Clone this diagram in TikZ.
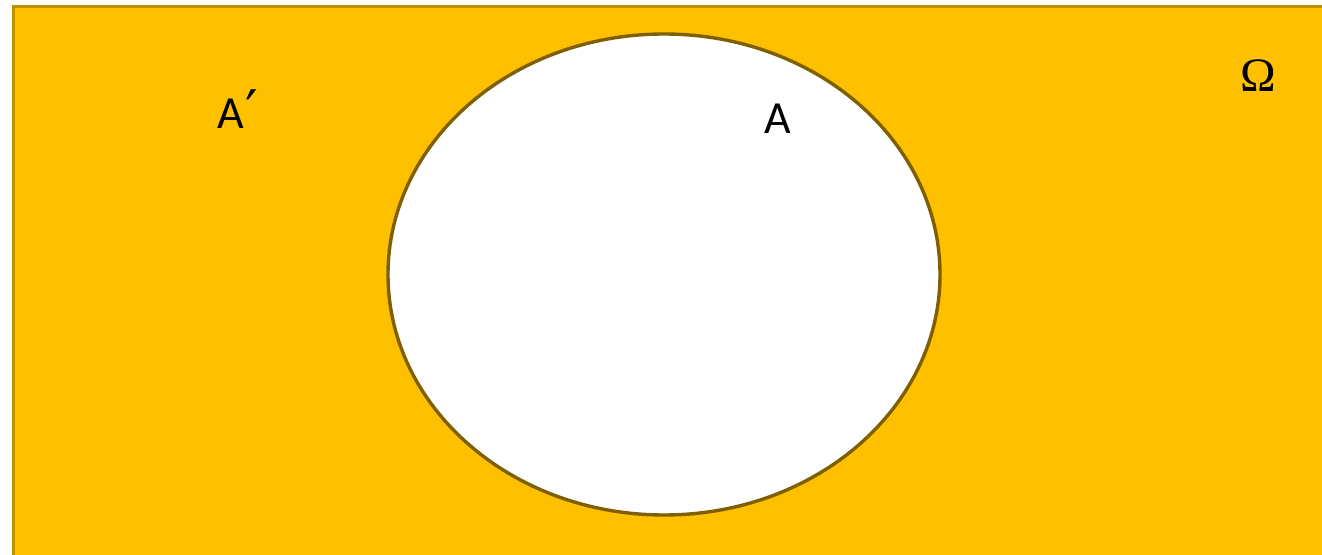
\documentclass[tikz,border=0pt]{standalone}
\usepackage{fontspec}
\usetikzlibrary{shapes.geometric}
\setmainfont{Carlito}
\newfontfamily\omegafont{Liberation Serif}
\newfontfamily\primefont{DejaVu Sans}
\definecolor{gold}{HTML}{FFC000}
\definecolor{goldedge}{HTML}{BF9000}
\definecolor{ellipseedge}{HTML}{7F6000}
\begin{document}
\begin{tikzpicture}[x=0.5pt,y=-0.5pt,
  lbl/.style={inner sep=0pt,font=\fontsize{23}{26}\selectfont,text=black},
  universe/.style={fill=gold,draw=goldedge,line width=1.5pt},
  setA/.style={ellipse,inner sep=0pt,minimum width=276pt,minimum height=240.5pt,fill=white,draw=ellipseedge,line width=1.7pt}]
\useasboundingbox (0,0) rectangle (1322,555);
\path[universe] (13.5,6.5) rectangle (1340,570);
\node[setA] (Aset) at (664,274.5) {};
\node[lbl] (Ac) at (238,110) {A\kern0.5pt\raisebox{-1pt}{\primefont\fontsize{28}{30}\selectfont ′}};
\node[lbl] (A) at (778,119) {A};
\node[lbl,font=\omegafont\fontsize{24}{26}\selectfont] (Om) at (1258,76) {Ω};
\end{tikzpicture}
\end{document}
